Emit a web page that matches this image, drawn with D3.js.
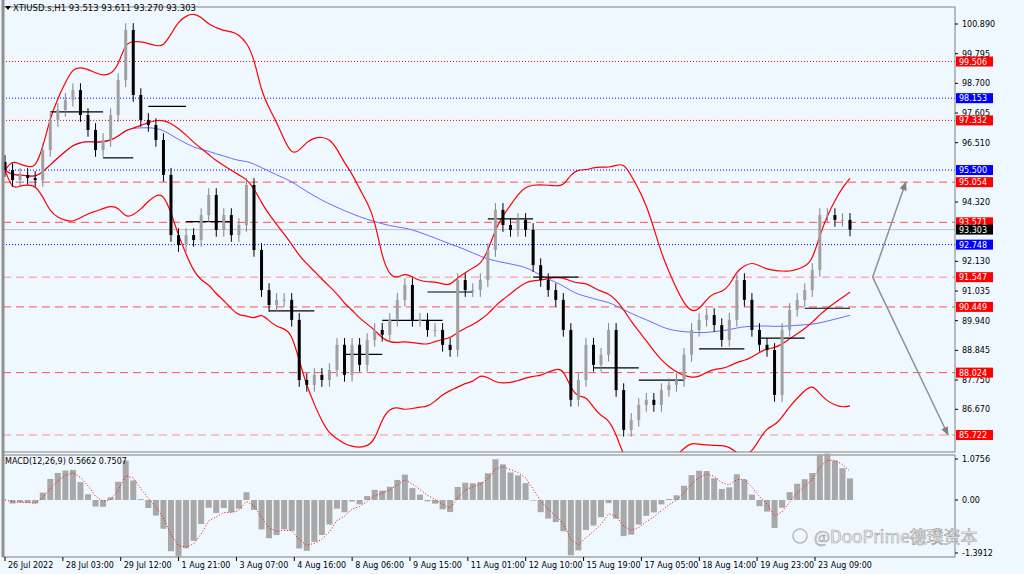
<!DOCTYPE html>
<html><head><meta charset="utf-8">
<script src="https://cdn.jsdelivr.net/npm/d3@7"></script>
<style>body{margin:0;background:#fff}svg{display:block;font-family:Tahoma,"DejaVu Sans",sans-serif}</style>
</head><body><svg id="c" width="1024" height="574"></svg>
<script>
// closes left to right
var closes = [95.50,95.13,95.32,95.21,95.13,96.24,97.35,97.72,98.09,98.45,97.53,96.98,96.24,96.61,97.53,98.82,100.67,98.27,97.35,97.16,
  96.61,95.32,93.10,92.73,93.10,92.92,93.84,94.58,93.29,93.84,93.10,93.47,94.95,92.55,91.07,90.52,90.71,90.71,89.97,87.75,
  87.57,87.94,87.75,88.12,89.05,87.94,89.05,88.31,89.23,89.60,89.42,89.97,90.71,91.26,89.97,89.97,89.60,89.60,89.05,88.86,
  91.44,91.07,91.07,91.44,92.55,94.03,93.47,93.29,93.66,93.29,91.99,91.44,91.07,90.71,89.60,87.02,87.75,89.05,88.31,88.68,
  89.60,87.38,85.91,86.28,86.83,87.02,86.83,87.38,87.57,87.75,88.68,89.60,89.97,90.15,89.78,89.23,89.97,91.44,90.71,89.60,
  89.05,88.86,87.20,89.60,90.34,90.71,91.07,91.81,93.84,93.84,93.66,93.66,93.303];
var priceTicks = [100.890,99.795,98.700,97.605,96.510,94.320,92.130,91.035,89.940,88.845,87.750,86.670];
var levels = [
  {p:99.506,c:"#ff0000",dash:"1,2",box:"#ff0000"},
  {p:98.153,c:"#0000ff",dash:"1,2",box:"#0000ff"},
  {p:97.332,c:"#ff0000",dash:"1,2",box:"#ff0000"},
  {p:95.500,c:"#0000ff",dash:"1,2",box:"#0000ff"},
  {p:95.054,c:"#ff5050",dash:"8,5",box:"#ff0000"},
  {p:93.571,c:"#ff5050",dash:"8,5",box:"#ff0000"},
  {p:92.748,c:"#0000ff",dash:"1,2",box:"#0000ff"},
  {p:91.547,c:"#ff9090",dash:"8,5",box:"#ff0000"},
  {p:90.449,c:"#ff5050",dash:"8,5",box:"#ff0000"},
  {p:88.024,c:"#ff5050",dash:"8,5",box:"#ff0000"},
  {p:85.722,c:"#ff9090",dash:"8,5",box:"#ff0000"}];
var dateLabels = ["26 Jul 2022","28 Jul 03:00","29 Jul 12:00","1 Aug 21:00","3 Aug 07:00","4 Aug 16:00","8 Aug 06:00",
  "9 Aug 15:00","11 Aug 01:00","12 Aug 10:00","15 Aug 19:00","17 Aug 05:00","18 Aug 14:00","19 Aug 23:00","23 Aug 09:00"];
// pivot segments: [start bar, end bar, price]
var pivots = [[6,13,97.65],[13,17,95.95],[19,24,97.85],[24,30,93.60],[35,41,90.30],[45,50,88.70],[50,58,89.95],[56,62,91.00],
  [64,70,93.70],[70,76,91.55],[78,84,88.20],[84,90,87.75],[92,98,88.90],[100,106,89.30],[106,112,90.40]];
var arrowsUp = [[115,91.547],[119.4,95.054]];
var arrowsDn = [[115,91.547],[125,85.722]];
var last = {o:93.513,h:93.611,l:93.270,c:93.303};

var svg = d3.select("#c");
var W = 955, mainTop = 7, mainBot = 452, macdTop = 455, macdBot = 557;
svg.append("rect").attr("width",1024).attr("height",574).attr("fill","#f0f8ff");

var x = d3.scaleLinear().domain([0, closes.length-1]).range([5, 850]);
var y = d3.scaleLinear().domain([85.722,100.890]).range([435,24]);

// bars
var bars = closes.map(function(c,i){
  var o = i ? closes[i-1] : c + 0.3;
  return {i:i,o:o,c:c,h:Math.max(o,c)+0.25,l:Math.min(o,c)-0.25};
});

function sma(arr,n,i){var s=arr.slice(Math.max(0,i-n+1),i+1);return d3.mean(s);}
function sd(arr,n,i){var s=arr.slice(Math.max(0,i-n+1),i+1);return s.length>1?d3.deviation(s):0;}
var bb = closes.map(function(c,i){var m=sma(closes,18,i),d=sd(closes,18,i);return {i:i,m:m,u:m+2.1*d,l:m-2.1*d};});
var ma = closes.map(function(c,i){return {i:i,v:sma(closes,55,i)};});
function ema(arr,n){var a=2/(n+1),r=[],v=arr[0];arr.forEach(function(d){v=v+a*(d-v);r.push(v);});return r;}
var e1 = ema(closes,3), e2 = ema(closes,7);
var macd = closes.map(function(c,i){return e1[i]-e2[i];});
var sig = ema(macd,3);

var g = svg.append("g");
g.append("clipPath").attr("id","cl").append("rect").attr("x",3).attr("y",mainTop).attr("width",W-3).attr("height",mainBot-mainTop);
var main = g.append("g").attr("clip-path","url(#cl)");

levels.forEach(function(l){
  main.append("line").attr("x1",3).attr("x2",W).attr("y1",y(l.p)).attr("y2",y(l.p))
    .attr("stroke",l.c).attr("stroke-dasharray",l.dash).attr("stroke-width",1);
});
main.append("line").attr("x1",3).attr("x2",W).attr("y1",y(last.c)).attr("y2",y(last.c)).attr("stroke","#c0c0c0");

var lineBB = function(k){return d3.line().x(function(d){return x(d.i);}).y(function(d){return y(d[k]);}).curve(d3.curveBasis);};
main.append("path").datum(ma).attr("d",d3.line().x(function(d){return x(d.i);}).y(function(d){return y(d.v);}).curve(d3.curveBasis))
  .attr("fill","none").attr("stroke","#6a6aff").attr("stroke-width",1);
["u","m","l"].forEach(function(k){
  main.append("path").datum(bb).attr("d",lineBB(k)).attr("fill","none").attr("stroke","#ff0000").attr("stroke-width",1.2);
});

pivots.forEach(function(p){
  main.append("line").attr("x1",x(p[0])).attr("x2",x(p[1])).attr("y1",y(p[2])).attr("y2",y(p[2])).attr("stroke","#000").attr("stroke-width",1.2);
});

var cg = main.selectAll("g.bar").data(bars).enter().append("g");
cg.append("line").attr("x1",function(d){return x(d.i);}).attr("x2",function(d){return x(d.i);})
  .attr("y1",function(d){return y(d.h);}).attr("y2",function(d){return y(d.l);})
  .attr("stroke",function(d){return d.c>=d.o?"#808080":"#000";});
cg.append("rect").attr("x",function(d){return x(d.i)-1.5;}).attr("width",3)
  .attr("y",function(d){return y(Math.max(d.o,d.c));})
  .attr("height",function(d){return Math.max(1,Math.abs(y(d.o)-y(d.c)));})
  .attr("fill",function(d){return d.c>=d.o?"#a0a0a0":"#000";});

// arrows
var defs = svg.append("defs");
defs.append("marker").attr("id","ar").attr("viewBox","0 0 10 10").attr("refX",9).attr("refY",5)
  .attr("markerWidth",6).attr("markerHeight",6).attr("orient","auto")
  .append("path").attr("d","M0,1L10,5L0,9Z").attr("fill","#808080");
[arrowsUp,arrowsDn].forEach(function(a){
  main.append("line").attr("x1",x(a[0][0])).attr("y1",y(a[0][1])).attr("x2",x(a[1][0])).attr("y2",y(a[1][1]))
    .attr("stroke","#909090").attr("stroke-width",1.5).attr("marker-end","url(#ar)");
});

// frames
svg.append("rect").attr("x",3).attr("y",mainTop).attr("width",W-3).attr("height",mainBot-mainTop).attr("fill","none").attr("stroke","#808080");
svg.append("rect").attr("x",3).attr("y",macdTop).attr("width",W-3).attr("height",macdBot-macdTop).attr("fill","none").attr("stroke","#808080");
svg.append("line").attr("x1",3).attr("x2",3).attr("y1",0).attr("y2",macdBot).attr("stroke","#909090").attr("stroke-width",3);

// price axis
var ax = svg.append("g").attr("font-size",8).attr("fill","#000");
priceTicks.forEach(function(p){
  ax.append("line").attr("x1",W).attr("x2",W+3).attr("y1",y(p)).attr("y2",y(p)).attr("stroke","#000");
  ax.append("text").attr("x",W+7).attr("y",y(p)+3).text(p.toFixed(3));
});
levels.concat([{p:last.c,box:"#000"}]).forEach(function(l){
  ax.append("rect").attr("x",W+1).attr("y",y(l.p)-5).attr("width",37).attr("height",10).attr("fill",l.box);
  ax.append("text").attr("x",W+4).attr("y",y(l.p)+3).attr("fill","#fff").text(l.p.toFixed(3));
});

// title
svg.append("path").attr("d","M5,6L11,6L8,10Z").attr("fill","#000");
svg.append("text").attr("x",13).attr("y",11).attr("font-size",8.5)
  .text("XTIUSD.s,H1  "+[last.o,last.h,last.l,last.c].map(function(v){return v.toFixed(3);}).join(" "));

// MACD pane
var ym = d3.scaleLinear().domain([-1.3912,1.0756]).range([553,459]);
var mg = svg.append("g");
mg.selectAll("rect").data(macd).enter().append("rect")
  .attr("x",function(d,i){return x(i)-3;}).attr("width",6)
  .attr("y",function(d){return Math.min(ym(d),ym(0));})
  .attr("height",function(d){return Math.abs(ym(d)-ym(0));})
  .attr("fill","#a8a8a8");
mg.append("path").datum(sig).attr("d",d3.line().x(function(d,i){return x(i);}).y(function(d){return ym(d);}))
  .attr("fill","none").attr("stroke","#ff0000").attr("stroke-dasharray","1,2");
svg.append("text").attr("x",5).attr("y",464).attr("font-size",8)
  .text("MACD(12,26,9) "+macd[macd.length-1].toFixed(4)+" "+sig[sig.length-1].toFixed(4));
[1.0756,0.00,-1.3912].forEach(function(v){
  ax.append("line").attr("x1",W).attr("x2",W+3).attr("y1",ym(v)).attr("y2",ym(v)).attr("stroke","#000");
  ax.append("text").attr("x",W+7).attr("y",ym(v)+3).text(v===0?"0.00":v.toFixed(4));
});

// date axis
var xd = d3.scaleLinear().domain([0,dateLabels.length-1]).range([5,815]);
dateLabels.forEach(function(t,i){
  svg.append("line").attr("x1",xd(i)).attr("x2",xd(i)).attr("y1",macdBot).attr("y2",macdBot+4).attr("stroke","#000");
  svg.append("text").attr("x",xd(i)+3).attr("y",568).attr("font-size",8).text(t);
});

// watermark
svg.append("circle").attr("cx",800).attr("cy",536).attr("r",7).attr("fill","none").attr("stroke","#bbb").attr("stroke-width",1.5);
svg.append("text").attr("x",814).attr("y",543).attr("font-size",17).attr("fill","#fff").attr("stroke","#999").attr("stroke-width",0.6)
  .attr("font-family","'Noto Sans CJK SC',sans-serif").text("@DooPrime德璞资本");
</script></body></html>
